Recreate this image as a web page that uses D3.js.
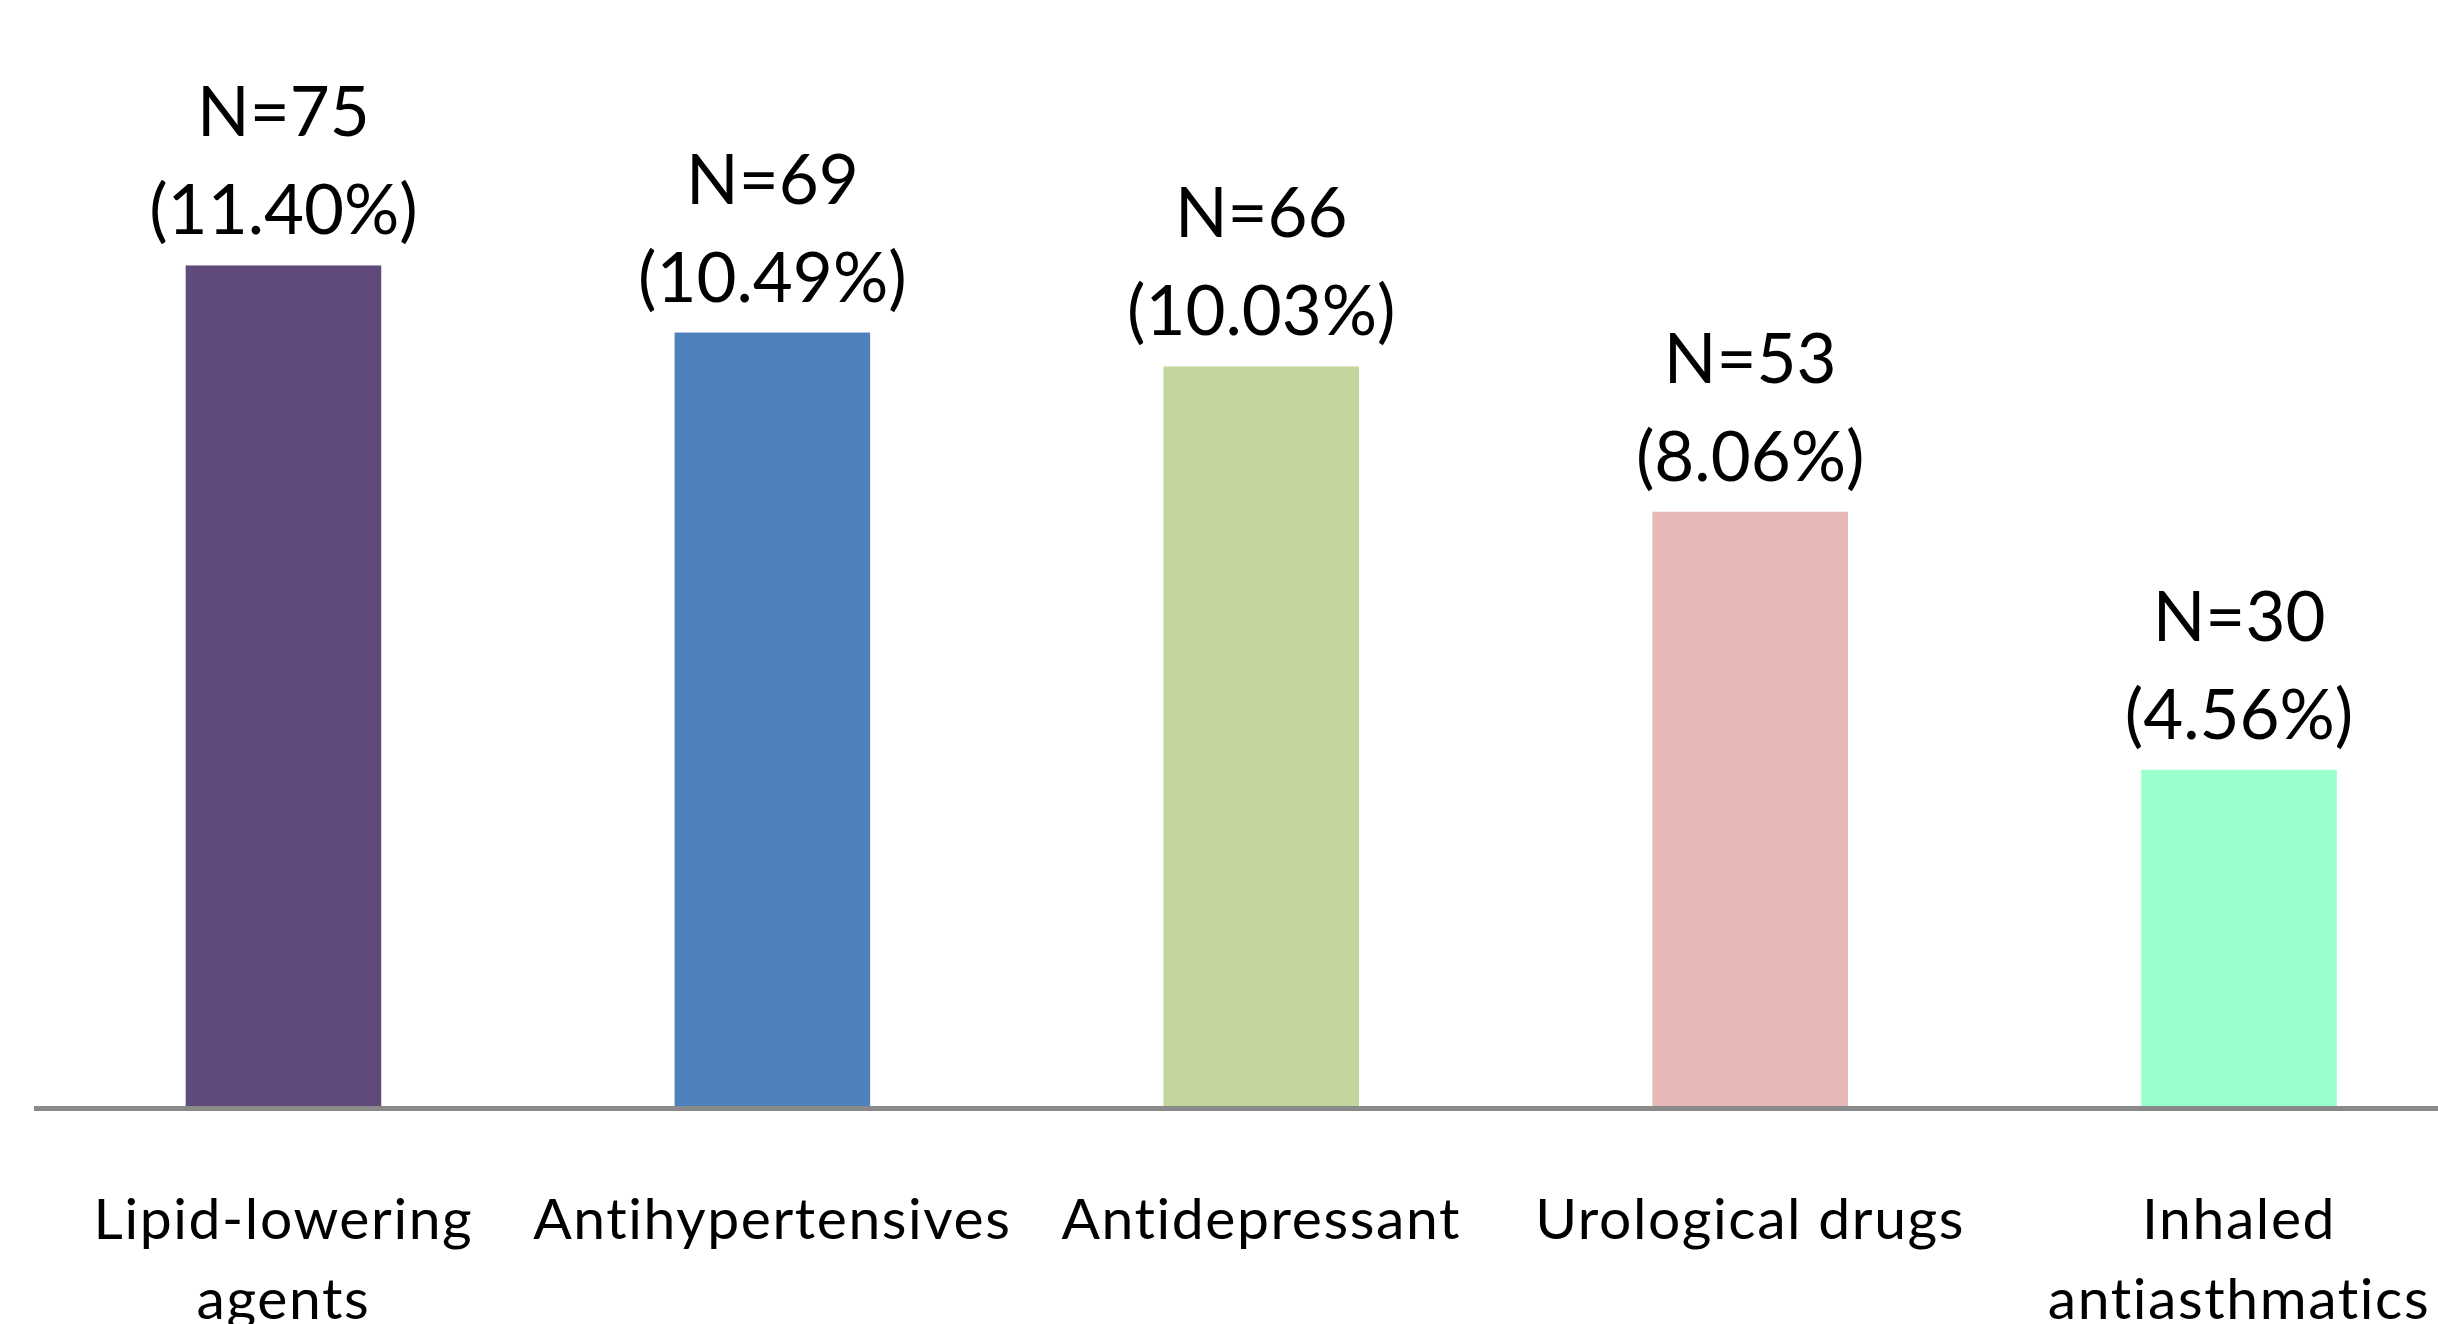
<!DOCTYPE html>
<html>
<head>
<meta charset="utf-8">
<script src="https://cdn.jsdelivr.net/npm/d3@7/dist/d3.min.js"></script>
<style>
  html, body { margin: 0; padding: 0; background: #ffffff; }
  svg { display: block; }
  text { font-family: Lato, "Open Sans", sans-serif; fill: #000000; }
</style>
</head>
<body>
<svg id="chart" width="2438" height="1324"></svg>
<script>
// Drug classes and their counts / shares of all prescriptions
const categories = ["Lipid-lowering agents", "Antihypertensives", "Antidepressant", "Urological drugs", "Inhaled antiasthmatics"];
const counts = [75, 69, 66, 53, 30];
const percents = [11.40, 10.49, 10.03, 8.06, 4.56];
const colors = ["#604a7b", "#4f81bd", "#c3d69b", "#e6b9b8", "#99ffcc"];

const width = 2438, height = 1324;
const baseline = 1106;

const svg = d3.select("#chart");
svg.append("rect").attr("width", width).attr("height", height).attr("fill", "#ffffff");

const x = d3.scaleBand()
  .domain(categories)
  .range([39, 2483.5])
  .paddingInner(0.6)
  .paddingOuter(0.3);

const y = d3.scaleLinear()
  .domain([0, 15])
  .range([baseline, 0]);

const rows = categories.map((c, i) => ({ cat: c, n: counts[i], pct: percents[i], color: colors[i] }));

// bars
svg.append("g").selectAll("rect")
  .data(rows)
  .join("rect")
  .attr("x", d => x(d.cat))
  .attr("y", d => y(d.pct))
  .attr("width", x.bandwidth())
  .attr("height", d => y(0) - y(d.pct))
  .attr("fill", d => d.color);

// category axis
const xAxis = svg.append("g")
  .attr("transform", `translate(0,${baseline + 2.5})`)
  .call(d3.axisBottom(x).tickSize(0).tickPadding(0).tickFormat(""));
xAxis.select(".domain")
  .attr("d", `M34,0H${width}`)
  .attr("stroke", "#8a8a8a")
  .attr("stroke-width", 5);

// wrapped category labels
const labelSize = 57, lineGap = 80, maxW = x.step();
const labels = svg.append("g").selectAll("text")
  .data(rows)
  .join("text")
  .attr("text-anchor", "middle")
  .attr("font-size", labelSize)
  .attr("letter-spacing", 1.6)
  .attr("x", d => x(d.cat) + x.bandwidth() / 2)
  .attr("y", 1239);

labels.each(function(d) {
  const t = d3.select(this);
  const words = d.cat.split(" ");
  let line = [];
  let tspan = t.append("tspan").attr("x", t.attr("x")).attr("dy", 0);
  words.forEach(w => {
    line.push(w);
    tspan.text(line.join(" "));
    if (tspan.node().getComputedTextLength() > maxW - 10 && line.length > 1) {
      line.pop();
      tspan.text(line.join(" "));
      line = [w];
      tspan = t.append("tspan").attr("x", t.attr("x")).attr("dy", lineGap).text(w);
    }
  });
});

// value labels above bars
const valueSize = 69;
const vals = svg.append("g").selectAll("g")
  .data(rows)
  .join("g")
  .attr("transform", d => `translate(${x(d.cat) + x.bandwidth() / 2},${y(d.pct)})`);

vals.append("text")
  .attr("text-anchor", "middle")
  .attr("font-size", valueSize)
  .attr("y", -129)
  .text(d => `N=${d.n}`);

vals.append("text")
  .attr("text-anchor", "middle")
  .attr("font-size", valueSize)
  .attr("y", -31)
  .text(d => `(${d.pct.toFixed(2)}%)`);
</script>
</body>
</html>
